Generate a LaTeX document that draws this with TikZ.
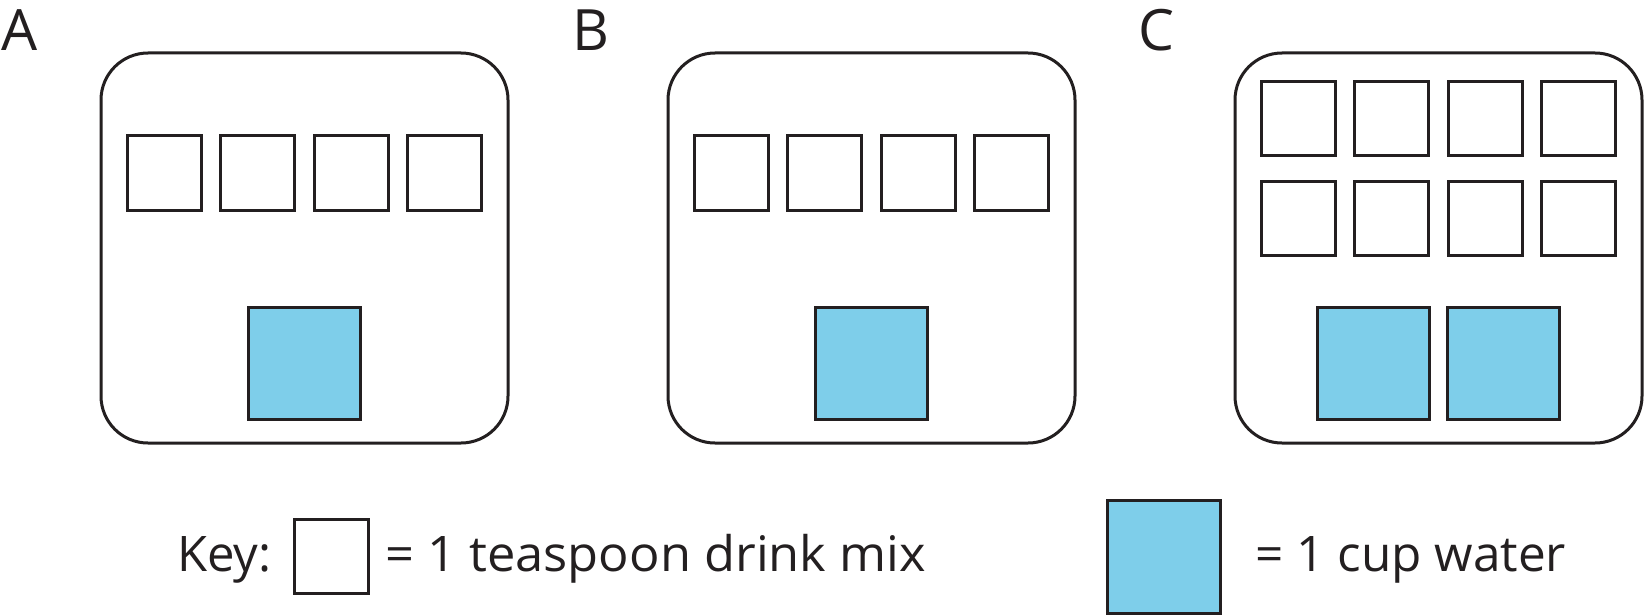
\documentclass[tikz,border=0pt]{standalone}
\usepackage{fontspec}
\setmainfont{Open Sans}
\definecolor{ink}{HTML}{231F20}
\definecolor{water}{HTML}{7ECEEA}
\begin{document}
\begin{tikzpicture}[x=1pt,y=-1pt,
  panelbox/.style={draw=ink,line width=3pt,rounded corners=47pt,minimum width=407pt,minimum height=390pt,inner sep=0pt},
  mixbox/.style={draw=ink,line width=3pt,fill=white,minimum size=74pt,inner sep=0pt},
  waterbox/.style={draw=ink,line width=3pt,fill=water,minimum size=112pt,inner sep=0pt},
  panellabel/.style={anchor=base west,inner sep=0pt,font=\fontsize{57}{68}\selectfont,text=ink},
  keytext/.style={anchor=base west,inner sep=0pt,font=\fontsize{49}{59}\selectfont,text=ink}]
\useasboundingbox[fill=white] (0,0) rectangle (1646,615);

% labels
\node[panellabel] (labA) at (1,51) {A};
\node[panellabel] (labB) at (572,51) {B};
\node[panellabel] (labC) at (1138,51) {C};

% panel A
\node[panelbox] (boxA) at (304.5,248) {};
\foreach \i/\d in {1/-140.25,2/-46.75,3/46.75,4/140.25}
  \node[mixbox] (A\i) at (304.5+\d,173) {};
\node[waterbox] (Aw) at (304.5,363) {};

% panel B
\node[panelbox] (boxB) at (871.5,248) {};
\foreach \i/\d in {1/-140.25,2/-46.75,3/46.75,4/140.25}
  \node[mixbox] (B\i) at (871.5+\d,173) {};
\node[waterbox] (Bw) at (871.5,363) {};

% panel C
\node[panelbox] (boxC) at (1438.5,248) {};
\foreach \i/\d in {1/-140.25,2/-46.75,3/46.75,4/140.25}{
  \node[mixbox] (Ct\i) at (1438.5+\d,118.5) {};
  \node[mixbox] (Cb\i) at (1438.5+\d,218) {};
}
\node[waterbox] (Cw1) at (1438.5-65,363) {};
\node[waterbox] (Cw2) at (1438.5+65,363) {};

% key
\node[keytext] (keylabel) at (177,571) {Key:};
\node[mixbox] (keymix) at (331,556.5) {};
\node[keytext] (keymixtext) at (385,571) {\scalebox{1.033}[1]{= 1 teaspoon drink mix}};
\node[waterbox,minimum size=113pt] (keywater) at (1163.5,556.5) {};
\node[keytext] (keywatertext) at (1255,571) {\scalebox{1.01}[1]{= 1 cup water}};
\end{tikzpicture}
\end{document}
